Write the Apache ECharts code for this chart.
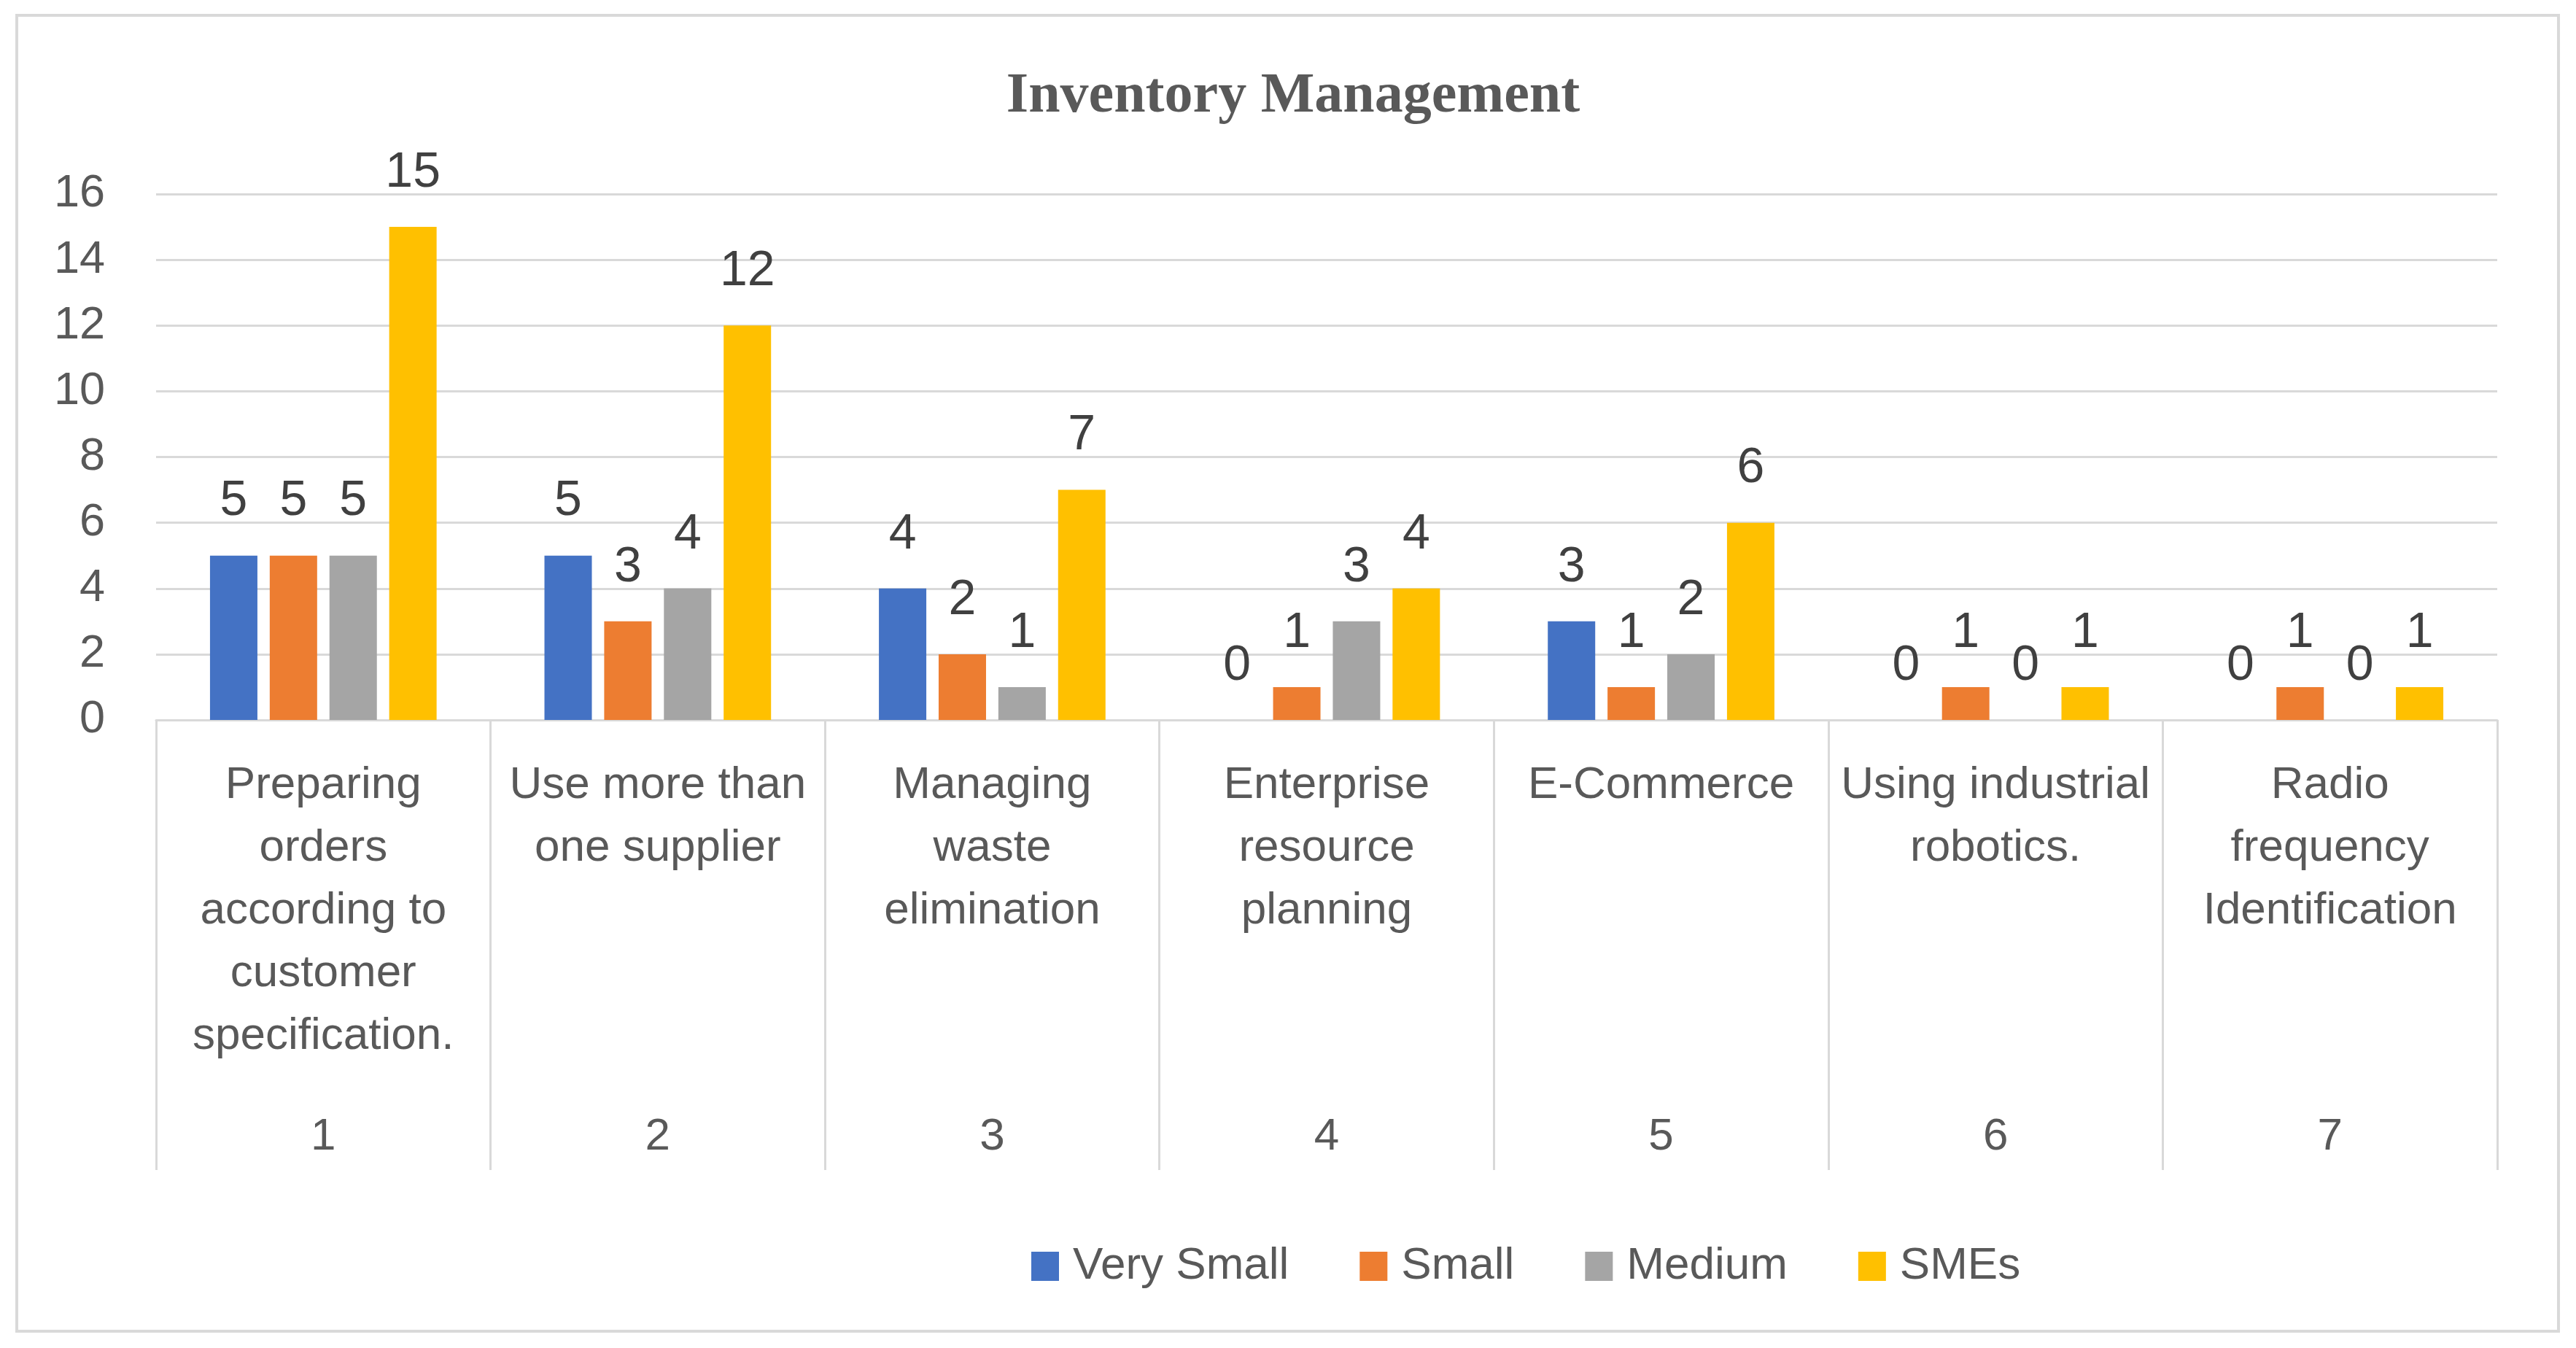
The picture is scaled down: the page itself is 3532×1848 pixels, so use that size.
<!DOCTYPE html>
<html>
<head>
<meta charset="utf-8">
<script src="https://cdn.jsdelivr.net/npm/echarts@6/dist/echarts.min.js"></script>
<style>
html,body{margin:0;padding:0;background:#fff;}
#chart{width:3532px;height:1848px;}
</style>
</head>
<body>
<div id="chart"></div>
<script>
const titleText = 'Inventory Management';
const categories = [
  'Preparing\norders\naccording to\ncustomer\nspecification.',
  'Use more than\none supplier',
  'Managing\nwaste\nelimination',
  'Enterprise\nresource\nplanning',
  'E-Commerce',
  'Using industrial\nrobotics.',
  'Radio\nfrequency\nIdentification'
];
const categoryNumbers = ['1','2','3','4','5','6','7'];
const seriesNames = ['Very Small','Small','Medium','SMEs'];
const verySmall = [5,5,4,0,3,0,0];
const small = [5,3,2,1,1,1,1];
const medium = [5,4,1,3,2,0,0];
const smes = [15,12,7,4,6,1,1];
const colors = ['#4472C4','#ED7D31','#A5A5A5','#FFC000'];
const yTicks = {min:0, max:16, interval:2};

const font = 'Liberation Sans';
const chart = echarts.init(document.getElementById('chart'));
const values = [verySmall, small, medium, smes];

chart.setOption({
  animation:false,
  backgroundColor:'#fff',
  color: colors,
  title:{
    text:titleText, left:1768, top:128, textAlign:'center', textVerticalAlign:'middle',
    textStyle:{fontFamily:'Liberation Serif', fontWeight:'bold', fontSize:78, color:'#595959'}
  },
  graphic:[{type:'rect', shape:{x:23,y:21,width:3485,height:1804}, style:{fill:'none', stroke:'#d9d9d9', lineWidth:4}, silent:true}],
  legend:{
    data: seriesNames, top:1700, itemWidth:38, itemHeight:40, itemGap:97,
    left:1409,
    icon:'rect',
    textStyle:{fontFamily:font, fontSize:62, color:'#595959', padding:[0,0,0,14]}
  },
  grid:{left:214, right:108, top:266, bottom:861, containLabel:false},
  xAxis:[{
    type:'category', data:categories, position:'bottom',
    axisLine:{show:true, lineStyle:{color:'#d9d9d9', width:3}},
    axisTick:{show:true, interval:0, alignWithLabel:false, length:617, lineStyle:{color:'#d9d9d9', width:3}},
    axisLabel:{interval:0, margin:47, fontFamily:font, fontSize:62, lineHeight:86, color:'#595959', align:'center'},
    splitLine:{show:false}
  },{
    type:'category', data:categoryNumbers, position:'bottom', offset:0,
    axisLine:{show:false}, axisTick:{show:false},
    axisLabel:{interval:0, margin:529, fontFamily:font, fontSize:62, lineHeight:86, color:'#595959'},
    splitLine:{show:false}
  }],
  yAxis:{
    type:'value', min:yTicks.min, max:yTicks.max, interval:yTicks.interval,
    axisLine:{show:false}, axisTick:{show:false},
    axisLabel:{margin:70, fontFamily:font, fontSize:63, color:'#595959'},
    splitLine:{lineStyle:{color:'#d9d9d9', width:3}}
  },
  series: seriesNames.map((n,i)=>({
    name:n, type:'bar', xAxisIndex:0, data:values[i], barWidth:65, barGap:'26%',
    itemStyle:{color:colors[i]},
    label:{show:true, position:'top', distance:40, fontFamily:font, fontSize:68, color:'#404040'}
  }))
});
</script>
</body>
</html>
